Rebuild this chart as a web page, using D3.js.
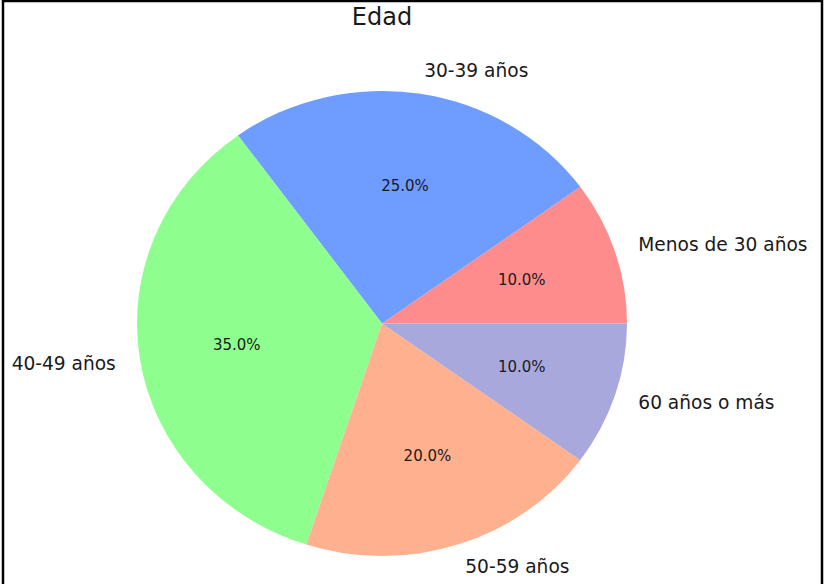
<!DOCTYPE html>
<html>
<head>
<meta charset="utf-8">
<script src="https://cdn.jsdelivr.net/npm/d3@7"></script>
<style>
  body { margin: 0; background: #fff; }
  svg { display: block; font-family: "DejaVu Sans", sans-serif; }
</style>
</head>
<body>
<svg width="827" height="584"></svg>
<script>
// data for the pie
const categories = ['Menos de 30 años', '30-39 años', '40-49 años', '50-59 años', '60 años o más'];
const values = [10, 25, 35, 20, 10];
const colors = ['#ff8c8c', '#6e9cff', '#8eff8e', '#ffb08e', '#a8a8dc'];
const title = 'Edad';

const width = 827
const height = 584

const svg = d3.select('svg').attr('width', width).attr('height', height)

// frame around the figure
svg.append('rect')
    .attr('x', 3).attr('y', 1)
    .attr('width', 819).attr('height', 620)
    .attr('fill', 'none')
    .attr('stroke', '#000')
    .attr('stroke-width', 2.5)

// unit circle -> pixels (the picture is slightly squashed vertically)
const x = d3.scaleLinear().domain([-1, 1]).range([137, 627])
const y = d3.scaleLinear().domain([-1, 1]).range([556, 91])
const rx = (x(1) - x(-1)) / 2
const ry = (y(-1) - y(1)) / 2

const total = d3.sum(values)

// matplotlib style: start at 3 o'clock, go counter-clockwise
const pie = d3.pie().sort(null)
    .startAngle(Math.PI / 2)
    .endAngle(Math.PI / 2 - 2 * Math.PI)

const arcs = pie(values)
const arc = d3.arc().innerRadius(0).outerRadius(rx)

const g = svg.append('g')
    .attr('transform', `translate(${x(0)},${y(0)}) scale(1,${ry / rx})`)

g.selectAll('path')
    .data(arcs)
    .join('path')
    .attr('d', arc)
    .attr('fill', (d, i) => colors[i])

// mid angle in math convention (radians, ccw from +x)
const mid = d => Math.PI / 2 - (d.startAngle + d.endAngle) / 2

// outer labels
svg.append('g')
    .selectAll('text')
    .data(arcs)
    .join('text')
    .attr('x', d => x(1.1 * Math.cos(mid(d))))
    .attr('y', d => y(1.1 * Math.sin(mid(d))))
    .attr('text-anchor', d => Math.cos(mid(d)) > 0 ? 'start' : 'end')
    .attr('dominant-baseline', 'central')
    .attr('font-size', 18.6)
    .attr('fill', '#1a1a1a')
    .text((d, i) => categories[i])

// percentages
svg.append('g')
    .selectAll('text')
    .data(arcs)
    .join('text')
    .attr('x', d => x(0.6 * Math.cos(mid(d))))
    .attr('y', d => y(0.6 * Math.sin(mid(d))))
    .attr('text-anchor', 'middle')
    .attr('dominant-baseline', 'central')
    .attr('font-size', 15)
    .attr('fill', '#1a1a1a')
    .text(d => (d.value / total * 100).toFixed(1) + '%')

// title
svg.append('text')
    .attr('x', x(0))
    .attr('y', 25)
    .attr('text-anchor', 'middle')
    .attr('font-size', 24)
    .attr('fill', '#1a1a1a')
    .text(title)
</script>
</body>
</html>
